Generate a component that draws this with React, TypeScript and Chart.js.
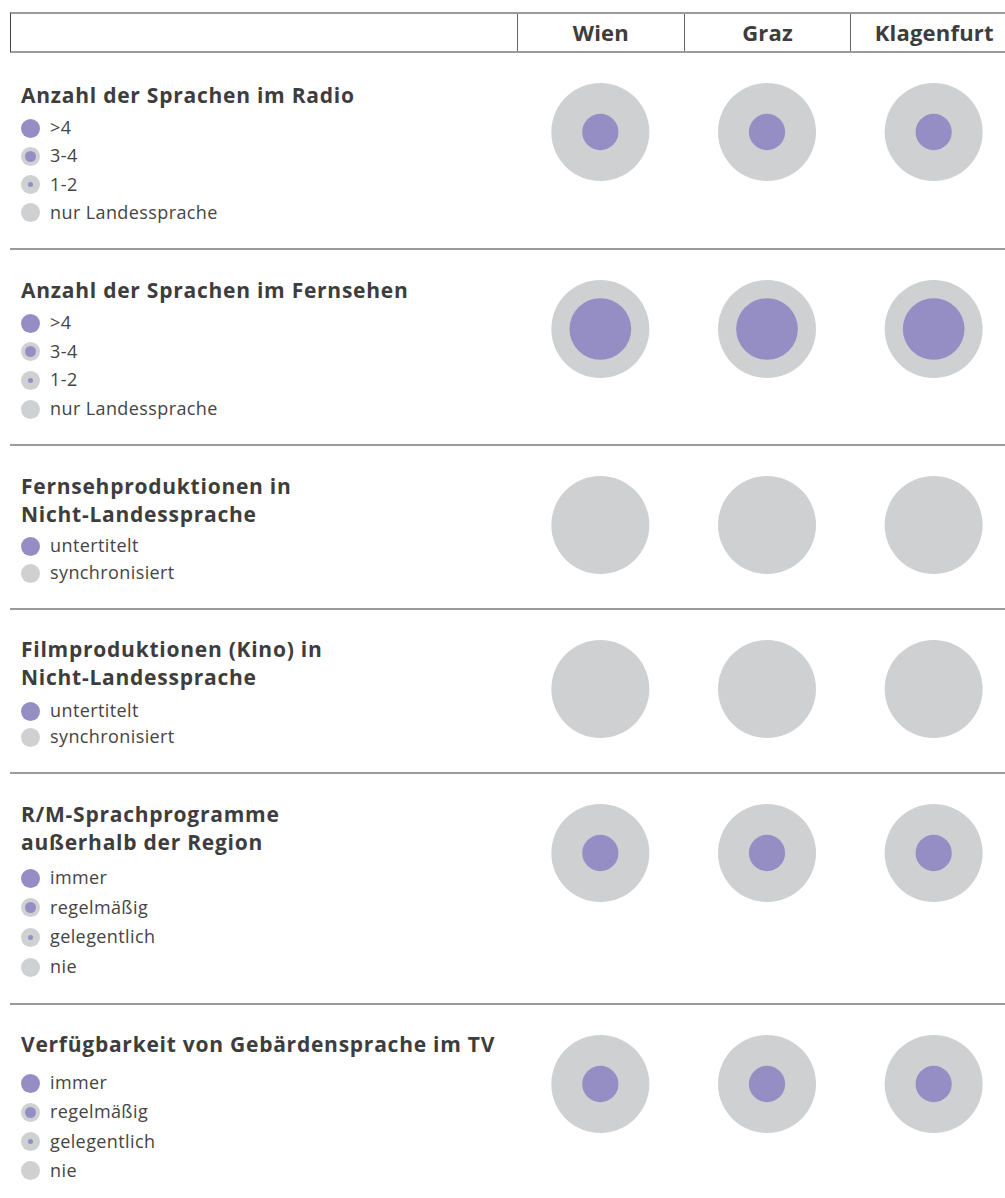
import React, { useEffect, useRef } from 'react';
import { Chart, registerables } from 'chart.js';

Chart.register(...registerables);

// ---------- data ----------
const cities = ['Wien', 'Graz', 'Klagenfurt'];

// values: index counted from the lowest legend entry (0 = last legend item)
const radioTitle = ['Anzahl der Sprachen im Radio'];
const radioLegend = ['>4', '3-4', '1-2', 'nur Landessprache'];
const radioValues = [1, 1, 1];

const tvTitle = ['Anzahl der Sprachen im Fernsehen'];
const tvLegend = ['>4', '3-4', '1-2', 'nur Landessprache'];
const tvValues = [2, 2, 2];

const tvProdTitle = ['Fernsehproduktionen in', 'Nicht-Landessprache'];
const tvProdLegend = ['untertitelt', 'synchronisiert'];
const tvProdValues = [0, 0, 0];

const filmTitle = ['Filmproduktionen (Kino) in', 'Nicht-Landessprache'];
const filmLegend = ['untertitelt', 'synchronisiert'];
const filmValues = [0, 0, 0];

const rmTitle = ['R/M-Sprachprogramme', 'außerhalb der Region'];
const rmLegend = ['immer', 'regelmäßig', 'gelegentlich', 'nie'];
const rmValues = [1, 1, 1];

const signTitle = ['Verfügbarkeit von Gebärdensprache im TV'];
const signLegend = ['immer', 'regelmäßig', 'gelegentlich', 'nie'];
const signValues = [1, 1, 1];

// ---------- styles ----------
const GRAY = '#cfd0d2';
const PURPLE = '#958ec4';
const LINE = '#9b9b9b';
const TEXT = '#3d3d3d';
const FONT = "'Open Sans', 'DejaVu Sans', sans-serif";
const OUTER_R = 49;
const INNER_RATIO: Record<number, number[]> = { 4: [0, 0.37, 0.63, 1], 2: [0, 1] };
const SWATCH_RATIO: Record<number, number[]> = { 4: [0, 0.3, 0.58, 1], 2: [0, 1] };

const rows = [
  { title: radioTitle, legend: radioLegend, values: radioValues },
  { title: tvTitle, legend: tvLegend, values: tvValues },
  { title: tvProdTitle, legend: tvProdLegend, values: tvProdValues },
  { title: filmTitle, legend: filmLegend, values: filmValues },
  { title: rmTitle, legend: rmLegend, values: rmValues },
  { title: signTitle, legend: signLegend, values: signValues },
];

// layout per row: height, title baseline, first legend centre, legend step
const rowLayout = [
  { h: 197, base: 51, first: 76, step: 28.3 },
  { h: 196, base: 49, first: 74, step: 28.7 },
  { h: 164, base: 49, first: 101, step: 27 },
  { h: 164, base: 48, first: 102, step: 26 },
  { h: 231, base: 49, first: 105, step: 29.7 },
  { h: 194, base: 48, first: 79, step: 29.3 },
];

function RowChart({ values, n }: { values: number[]; n: number }) {
  const ref = useRef<HTMLCanvasElement>(null);
  useEffect(() => {
    const ratios = INNER_RATIO[n];
    const chart = new Chart(ref.current as HTMLCanvasElement, {
      type: 'scatter',
      data: {
        labels: cities,
        datasets: [
          {
            label: 'Wert',
            data: values.map((v, i) => ({ x: cities[i], y: 0 })) as any,
            pointRadius: values.map((v) => OUTER_R * ratios[v]),
            pointHoverRadius: values.map((v) => OUTER_R * ratios[v]),
            pointBackgroundColor: PURPLE,
            backgroundColor: PURPLE,
            pointBorderWidth: 0,
            borderWidth: 0,
            clip: false as any,
          },
          {
            label: 'Basis',
            data: cities.map((c) => ({ x: c, y: 0 })) as any,
            pointRadius: OUTER_R,
            pointHoverRadius: OUTER_R,
            pointBackgroundColor: GRAY,
            backgroundColor: GRAY,
            pointBorderWidth: 0,
            borderWidth: 0,
            clip: false as any,
          },
        ],
      },
      options: {
        animation: false,
        responsive: false,
        maintainAspectRatio: false,
        devicePixelRatio: 1,
        events: [],
        layout: { padding: 0, autoPadding: false },
        plugins: { legend: { display: false }, tooltip: { enabled: false } },
        scales: {
          x: { type: 'category', labels: cities, offset: true, display: false },
          y: { type: 'linear', min: -1, max: 1, display: false },
        },
      },
    });
    return () => chart.destroy();
  }, []);
  return (
    <canvas
      ref={ref}
      width={500}
      height={160}
      style={{ position: 'absolute', left: 517, top: 0, width: 500, height: 160 }}
    />
  );
}

function Swatch({ level, n }: { level: number; n: number }) {
  const r = SWATCH_RATIO[n][level];
  const d = 19 * r;
  return (
    <div
      style={{
        width: 19,
        height: 19,
        borderRadius: '50%',
        background: r >= 1 ? PURPLE : GRAY,
        position: 'relative',
        flex: '0 0 19px',
      }}
    >
      {r > 0 && r < 1 && (
        <div
          style={{
            position: 'absolute',
            left: (19 - d) / 2,
            top: (19 - d) / 2,
            width: d,
            height: d,
            borderRadius: '50%',
            background: PURPLE,
          }}
        />
      )}
    </div>
  );
}

export default function App() {
  let top = 52;
  const rowEls = rows.map((row, ri) => {
    const lay = rowLayout[ri];
    const n = row.legend.length;
    const el = (
      <div key={ri} style={{ position: 'absolute', left: 0, top, width: 1017, height: lay.h }}>
        {ri > 0 && (
          <div style={{ position: 'absolute', left: 10, top: -1, width: 1007, height: 2, background: LINE }} />
        )}
        <div
          style={{
            position: 'absolute',
            left: 21,
            top: lay.base - 22,
            fontSize: 21,
            fontWeight: 700,
            lineHeight: '28px',
            letterSpacing: 0.75,
            color: TEXT,
            whiteSpace: 'nowrap',
          }}
        >
          {row.title.map((t, i) => (
            <div key={i}>{t}</div>
          ))}
        </div>
        {row.legend.map((lab, li) => (
          <div
            key={li}
            style={{
              position: 'absolute',
              left: 21,
              top: lay.first + li * lay.step - 10,
              height: 20,
              display: 'flex',
              alignItems: 'center',
              whiteSpace: 'nowrap',
            }}
          >
            <Swatch level={n - 1 - li} n={n} />
            <span
              style={{
                marginLeft: 10,
                fontSize: 18,
                lineHeight: '20px',
                letterSpacing: 0.4,
                color: '#444',
                position: 'relative',
                top: -1,
              }}
            >
              {lab}
            </span>
          </div>
        ))}
        <RowChart values={row.values} n={n} />
      </div>
    );
    top += lay.h;
    return el;
  });

  return (
    <div
      style={{
        position: 'absolute',
        left: 0,
        top: 0,
        width: 1005,
        height: 1198,
        overflow: 'hidden',
        background: '#fff',
        fontFamily: FONT,
      }}
    >
      <div
        style={{
          position: 'absolute',
          left: 10,
          top: 12,
          width: 1007,
          height: 41,
          boxSizing: 'border-box',
          borderTop: `2px solid ${LINE}`,
          borderBottom: `2px solid ${LINE}`,
          borderLeft: '1px solid #444',
        }}
      >
        {cities.map((c, i) => (
          <div
            key={c}
            style={{
              position: 'absolute',
              left: 506 + i * 166.7,
              top: 0,
              width: 166.7,
              height: 37,
              boxSizing: 'border-box',
              borderLeft: '1px solid #666',
              textAlign: 'center',
              lineHeight: '37px',
              fontSize: 22,
              fontWeight: 700,
              letterSpacing: 0.2,
              color: TEXT,
            }}
          >
            {c}
          </div>
        ))}
      </div>
      {rowEls}
    </div>
  );
}
